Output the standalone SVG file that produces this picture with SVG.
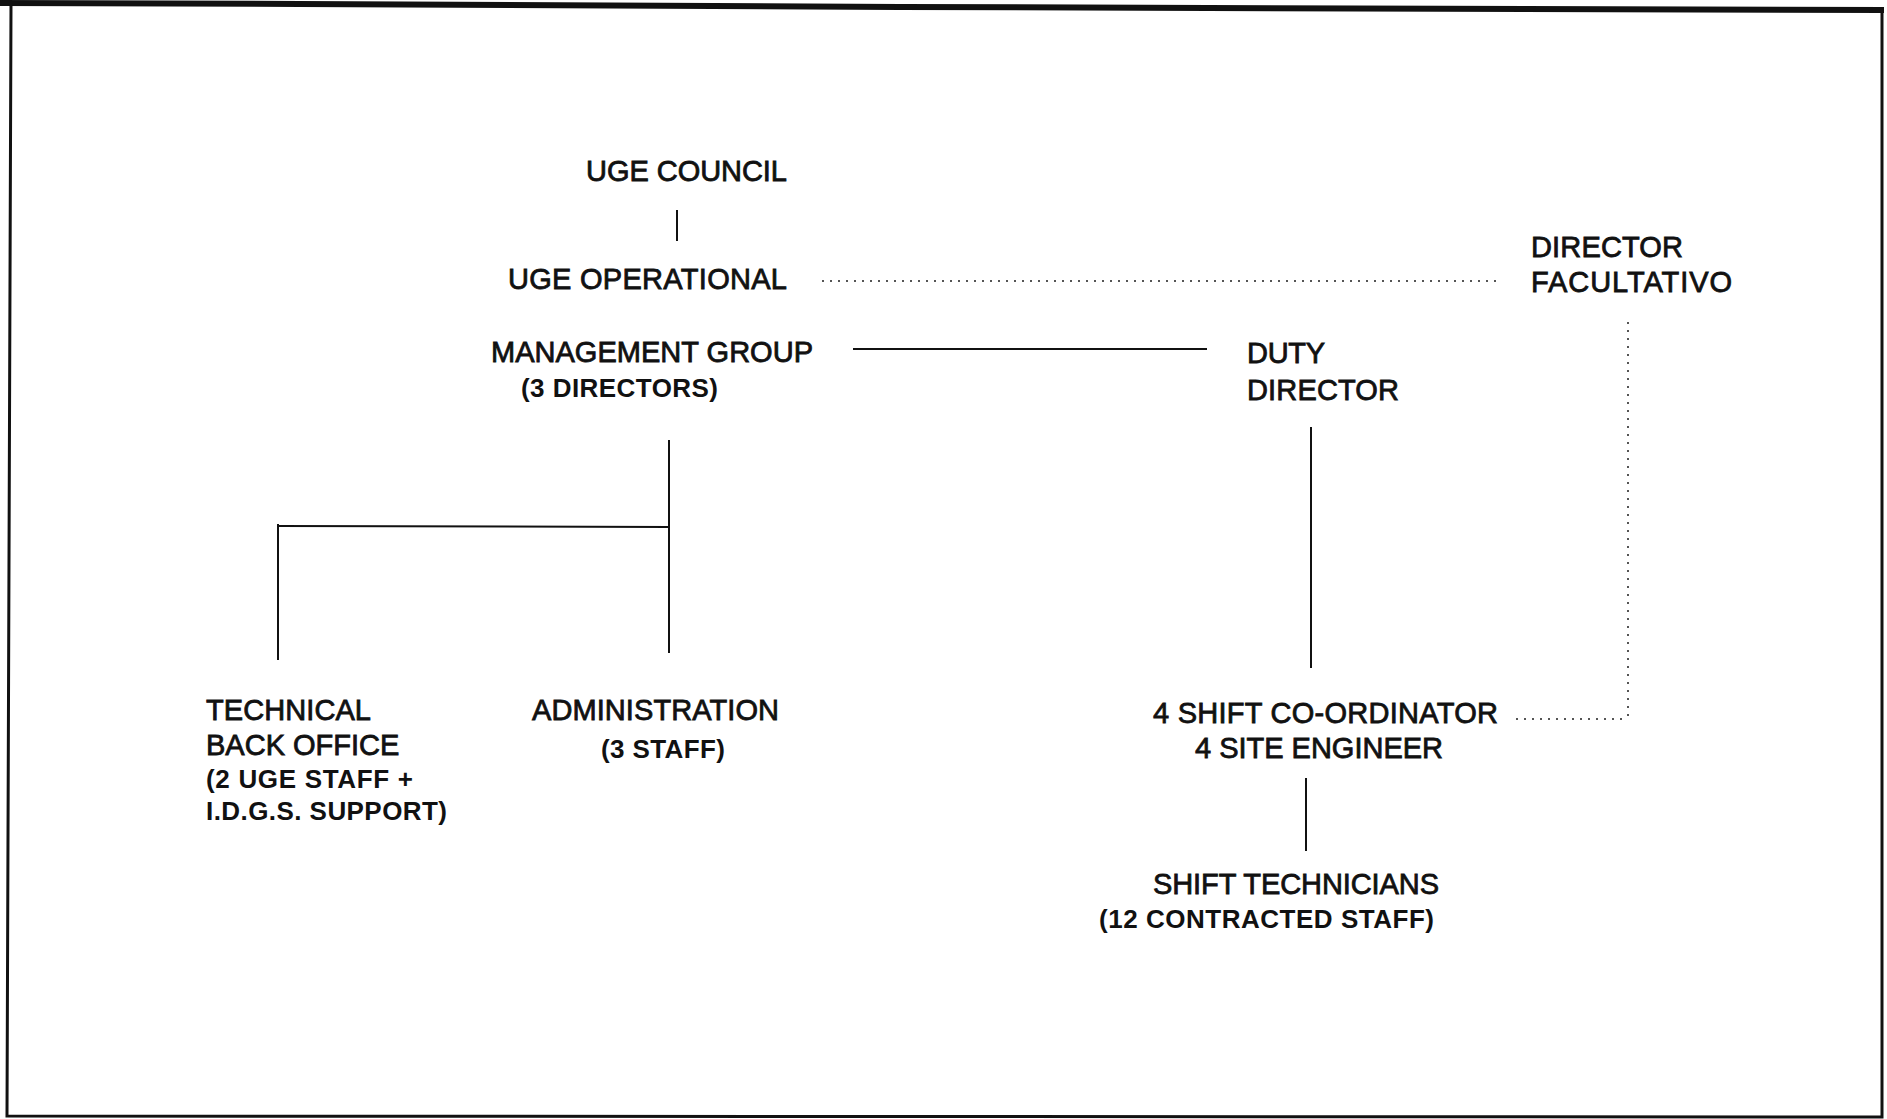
<svg xmlns="http://www.w3.org/2000/svg" width="1887" height="1119" viewBox="0 0 1887 1119">
<style>
.t{font-family:"Liberation Sans",Arial,sans-serif;font-size:29px;fill:#111;stroke:#111;stroke-width:0.8}
.s{font-family:"Liberation Sans",Arial,sans-serif;font-size:26px;font-weight:bold;fill:#111}
.ln{stroke:#111;stroke-width:2;fill:none}
.dt{stroke:#555;stroke-width:2;fill:none;stroke-dasharray:2 6}
</style>
<rect width="1887" height="1119" fill="#fff"/>
<path d="M0 3 L300 4 L900 7 L1884 10" stroke="#111" stroke-width="6" fill="none"/>
<path d="M11 4 L7 1116 L1882 1117 L1882 10" stroke="#111" stroke-width="3" fill="none"/>
<g id="connectors">
<line class="ln" x1="677" y1="210" x2="677" y2="241"/>
<line class="dt" x1="822" y1="281" x2="1498" y2="281"/>
<line class="ln" x1="853" y1="349" x2="1207" y2="349"/>
<line class="ln" x1="669" y1="440" x2="669" y2="653"/>
<line class="ln" x1="278" y1="526" x2="669" y2="527"/>
<line class="ln" x1="278" y1="524" x2="278" y2="660"/>
<line class="ln" x1="1311" y1="427" x2="1311" y2="668"/>
<line class="ln" x1="1306" y1="778" x2="1306" y2="851"/>
<line class="dt" x1="1628" y1="322" x2="1628" y2="719"/>
<line class="dt" x1="1516" y1="719" x2="1628" y2="719"/>
</g>
<g id="uge-council"><text class="t" x="586" y="181" textLength="201">UGE COUNCIL</text></g>
<g id="uge-operational">
<text class="t" x="508" y="289" textLength="279">UGE OPERATIONAL</text>
<text class="t" x="491" y="362" textLength="322">MANAGEMENT GROUP</text>
<text class="s" x="521" y="397" textLength="197">(3 DIRECTORS)</text>
</g>
<g id="director-facultativo">
<text class="t" x="1531" y="257" textLength="152">DIRECTOR</text>
<text class="t" x="1531" y="292" textLength="201">FACULTATIVO</text>
</g>
<g id="duty-director">
<text class="t" x="1247" y="363" textLength="78">DUTY</text>
<text class="t" x="1247" y="400" textLength="152">DIRECTOR</text>
</g>
<g id="technical-back-office">
<text class="t" x="206" y="720" textLength="165">TECHNICAL</text>
<text class="t" x="206" y="755">BACK OFFICE</text>
<text class="s" x="206" y="788" textLength="207">(2 UGE STAFF +</text>
<text class="s" x="206" y="820" textLength="241">I.D.G.S. SUPPORT)</text>
</g>
<g id="administration">
<text class="t" x="532" y="720" textLength="247">ADMINISTRATION</text>
<text class="s" x="601" y="758" textLength="124">(3 STAFF)</text>
</g>
<g id="shift-coordinator">
<text class="t" x="1153" y="723" textLength="345">4 SHIFT CO-ORDINATOR</text>
<text class="t" x="1195" y="758" textLength="248">4 SITE ENGINEER</text>
</g>
<g id="shift-technicians">
<text class="t" x="1153" y="894" textLength="286">SHIFT TECHNICIANS</text>
<text class="s" x="1099" y="928" textLength="335">(12 CONTRACTED STAFF)</text>
</g>
</svg>
